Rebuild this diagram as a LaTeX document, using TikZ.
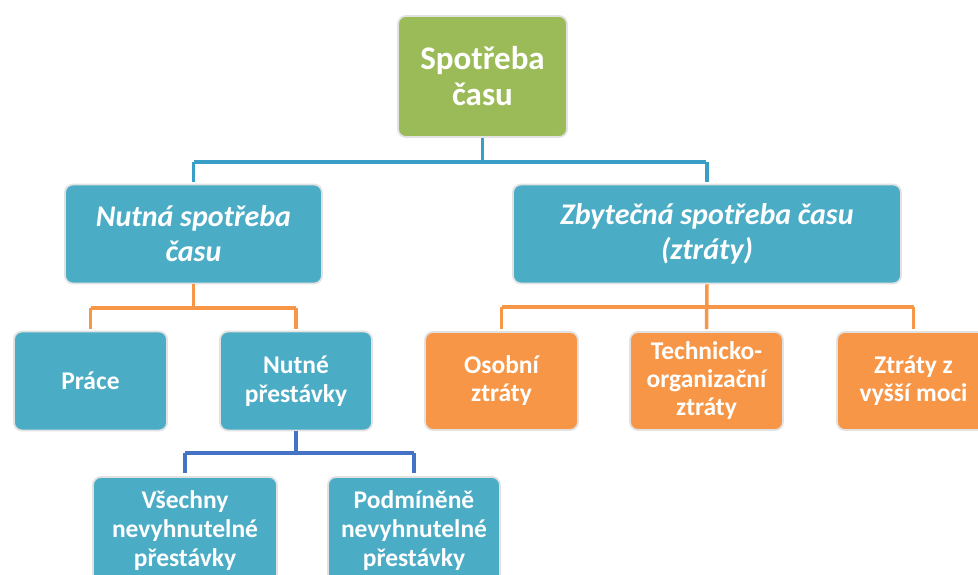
\documentclass[tikz,border=0pt]{standalone}
\usepackage{fontspec}
\setmainfont{Carlito}
\definecolor{cgreen}{HTML}{9BBB59}
\definecolor{cblue}{HTML}{4BACC6}
\definecolor{corange}{HTML}{F79646}
\definecolor{clinkblue}{HTML}{3A9FC6}
\definecolor{cdarkblue}{HTML}{4472C4}
\definecolor{cedge}{HTML}{E2E2E2}
\begin{document}
\begin{tikzpicture}[x=1pt,y=-1pt,
  box/.style={draw=cedge, line width=1.8pt, rounded corners=8pt, text=white,
    align=center, inner sep=2pt, font=\bfseries},
  rootbox/.style={box, fill=cgreen, font=\fontsize{33}{36}\selectfont\bfseries},
  midbox/.style={box, fill=cblue, font=\fontsize{30}{35}\selectfont\bfseries\itshape},
  smallblue/.style={box, fill=cblue, font=\fontsize{25.5}{29}\selectfont\bfseries},
  smallorange/.style={box, fill=corange, font=\fontsize{25.5}{28}\selectfont\bfseries},
  linkb/.style={draw=clinkblue, line width=3.5pt},
  linko/.style={draw=corange, line width=3.5pt},
  linkd/.style={draw=cdarkblue, line width=3.5pt}
]
\useasboundingbox (0,0) rectangle (978,574);
\clip (0,0) rectangle (978,574);
\fill[white] (0,0) rectangle (978,574);

\node[rootbox, minimum width=169pt, minimum height=121pt] (root) at (482.5,76.5) {Spotřeba\\času};
\node[midbox, minimum width=257pt, minimum height=99pt] (nutna) at (193.5,234) {Nutná spotřeba\\času};
\node[midbox, minimum width=388pt, minimum height=99pt] (zbyt) at (707,234) {Zbytečná spotřeba času\\(ztráty)};

\node[smallblue, minimum width=153pt, minimum height=99pt] (prace) at (90.5,381) {Práce};
\node[smallblue, minimum width=152pt, minimum height=99pt] (nutne) at (296,381) {Nutné\\přestávky};

\node[smallorange, minimum width=153pt, minimum height=98pt] (osobni) at (501.5,381) {Osobní\\ztráty};
\node[smallorange, minimum width=153pt, minimum height=98pt] (tech) at (706.5,381) {Technicko-\\organizační\\ztráty};
\node[smallorange, minimum width=153pt, minimum height=98pt] (vyssi) at (913.5,381) {Ztráty z\\vyšší moci};

\node[smallblue, minimum width=184pt, minimum height=108pt] (vsechny) at (185,531) {Všechny\\nevyhnutelné\\přestávky};
\node[smallblue, minimum width=172pt, minimum height=108pt] (podm) at (414,531) {Podmíněně\\nevyhnutelné\\přestávky};

% connectors
\draw[linkb] (root.south) -- (root.south |- 0,162);
\draw[linkb, shorten >=1.5pt] (nutna.north |- 0,162) -- (zbyt.north |- 0,162);
\draw[linkb, shorten >=1.5pt] (nutna.north |- 0,162) -- (nutna.north);
\draw[linkb, shorten >=1.5pt] (zbyt.north |- 0,162) -- (zbyt.north);

\draw[linko] (nutna.south) -- (nutna.south |- 0,308);
\draw[linko] (prace.north |- 0,308) -- (nutne.north |- 0,308);
\draw[linko, shorten >=2pt] (prace.north |- 0,308) -- (prace.north);
\draw[linko, shorten >=2pt] (nutne.north |- 0,308) -- (nutne.north);

\draw[linko, shorten >=2pt] (zbyt.south) -- (tech.north);
\draw[linko] (osobni.north |- 0,307) -- (vyssi.north |- 0,307);
\draw[linko, shorten >=2pt] (osobni.north |- 0,307) -- (osobni.north);
\draw[linko, shorten >=2pt] (vyssi.north |- 0,307) -- (vyssi.north);

\draw[linkd] (nutne.south) -- (nutne.south |- 0,453);
\draw[linkd] (vsechny.north |- 0,453) -- (podm.north |- 0,453);
\draw[linkd, shorten >=3pt] (vsechny.north |- 0,453) -- (vsechny.north);
\draw[linkd, shorten >=3pt] (podm.north |- 0,453) -- (podm.north);
\end{tikzpicture}
\end{document}
